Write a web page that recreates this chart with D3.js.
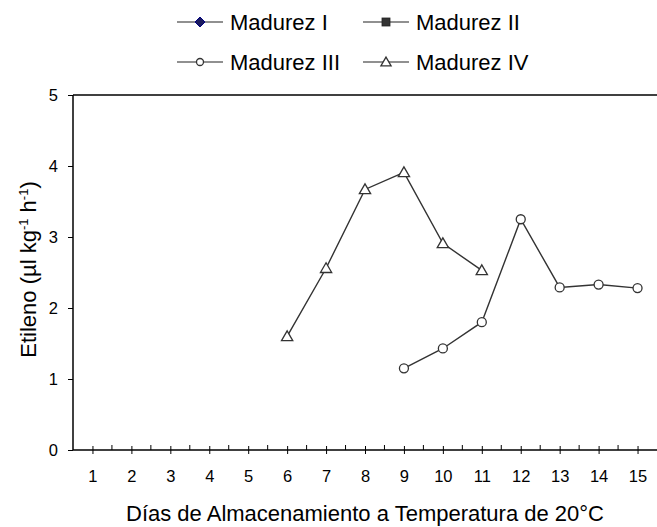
<!DOCTYPE html>
<html lang="es">
<head>
<meta charset="UTF-8">
<title>Etileno</title>
<script src="https://cdn.jsdelivr.net/npm/d3@7"></script>
<style>
  body { margin: 0; background: #fff; }
  svg { display: block; font-family: "Liberation Sans", Arial, sans-serif; }
</style>
</head>
<body>
<svg width="657" height="527"></svg>
<script>
// datos
const dias = [1, 2, 3, 4, 5, 6, 7, 8, 9, 10, 11, 12, 13, 14, 15];
const yTicks = [0, 1, 2, 3, 4, 5];
const diasIII = [9, 10, 11, 12, 13, 14, 15];
const madurezIII = [1.15, 1.43, 1.80, 3.25, 2.29, 2.33, 2.28];
const diasIV = [6, 7, 8, 9, 10, 11];
const madurezIV = [1.60, 2.56, 3.67, 3.91, 2.91, 2.53];
const series = ["Madurez I", "Madurez II", "Madurez III", "Madurez IV"];

const width = 657, height = 527;
const margin = { top: 95, right: 0, bottom: 77, left: 73 };

const svg = d3.select("svg");

const x = d3.scaleLinear()
    .domain([0.5, 15.5])
    .range([margin.left, width - margin.right]);

const y = d3.scaleLinear()
    .domain([0, 5])
    .range([height - margin.bottom, margin.top]);

// borde superior
svg.append("line")
    .attr("x1", margin.left).attr("x2", width)
    .attr("y1", y(5)).attr("y2", y(5))
    .attr("stroke", "#000").attr("stroke-width", 1.5);

// eje y
const gy = svg.append("g")
    .attr("transform", `translate(${margin.left},0)`)
    .call(d3.axisLeft(y).tickValues(yTicks).tickSize(5).tickPadding(10).tickFormat(d3.format("d")));
gy.select(".domain").attr("stroke-width", 1.5).attr("d", `M0,${y(0)}V${y(5)}`);
gy.selectAll("text").attr("font-size", 16.5).attr("font-family", "Liberation Sans, Arial, sans-serif");

// eje x: marcas en cada día y entre días
const halfTicks = d3.range(1.5, 15.5, 1);
const gx = svg.append("g")
    .attr("transform", `translate(0,${y(0)})`)
    .call(d3.axisBottom(x).tickValues(dias).tickSize(4).tickPadding(16).tickFormat(d3.format("d")));
gx.select(".domain").attr("stroke-width", 1.5).attr("d", `M${margin.left},0H${width}`);
gx.selectAll(".tick line").attr("y1", -4);
gx.selectAll("text").attr("font-size", 16.5).attr("font-family", "Liberation Sans, Arial, sans-serif");
gx.selectAll(".half")
    .data(halfTicks)
    .join("line")
    .attr("class", "half")
    .attr("x1", d => x(d)).attr("x2", d => x(d))
    .attr("y1", -5).attr("y2", 0)
    .attr("stroke", "#000");

// títulos de ejes
svg.append("text")
    .attr("x", (margin.left + width) / 2)
    .attr("y", 521)
    .attr("text-anchor", "middle")
    .attr("font-size", 22)
    .text("Días de Almacenamiento a Temperatura de 20°C");

const yl = svg.append("text")
    .attr("transform", `translate(36,${(y(0) + y(5)) / 2 - 3}) rotate(-90)`)
    .attr("text-anchor", "middle")
    .attr("font-size", 22);
yl.append("tspan").text("Etileno (µl kg");
yl.append("tspan").attr("font-size", 13).attr("dy", -8).text("-1");
yl.append("tspan").attr("dy", 8).text(" h");
yl.append("tspan").attr("font-size", 13).attr("dy", -8).text("-1");
yl.append("tspan").attr("dy", 8).text(")");

// líneas
const line = d3.line().x(d => x(d[0])).y(d => y(d[1]));
const datIII = diasIII.map((d, i) => [d, madurezIII[i]]);
const datIV = diasIV.map((d, i) => [d, madurezIV[i]]);

svg.append("path").datum(datIV).attr("d", line)
    .attr("fill", "none").attr("stroke", "#333").attr("stroke-width", 1.4);
svg.append("path").datum(datIII).attr("d", line)
    .attr("fill", "none").attr("stroke", "#333").attr("stroke-width", 1.4);

const tri = d3.symbol().type(d3.symbolTriangle).size(55);
svg.selectAll(".tri")
    .data(datIV)
    .join("path")
    .attr("class", "tri")
    .attr("transform", d => `translate(${x(d[0])},${y(d[1]) + 1})`)
    .attr("d", tri)
    .attr("fill", "#fff").attr("stroke", "#333").attr("stroke-width", 1.3);

svg.selectAll(".circ")
    .data(datIII)
    .join("circle")
    .attr("class", "circ")
    .attr("cx", d => x(d[0])).attr("cy", d => y(d[1]))
    .attr("r", 4.5)
    .attr("fill", "#fff").attr("stroke", "#333").attr("stroke-width", 1.3);

// leyenda
const legPos = [[177, 22], [363, 22], [177, 62], [363, 62]];
const leg = svg.selectAll(".leg")
    .data(series)
    .join("g")
    .attr("class", "leg")
    .attr("transform", (d, i) => `translate(${legPos[i][0]},${legPos[i][1]})`);

leg.append("line")
    .attr("x1", 0).attr("x2", 46)
    .attr("stroke", "#222").attr("stroke-width", 1.2);

leg.each(function (d, i) {
    const g = d3.select(this);
    if (i === 0) {
        g.append("path").attr("d", "M23,-5L28,0L23,5L18,0Z")
            .attr("fill", "#1a1a5e").attr("stroke", "#000080").attr("stroke-width", 1);
    } else if (i === 1) {
        g.append("rect").attr("x", 19).attr("y", -4).attr("width", 8).attr("height", 8)
            .attr("fill", "#333").attr("stroke", "#222").attr("stroke-width", 0.8);
    } else if (i === 2) {
        g.append("circle").attr("cx", 23).attr("r", 3.5)
            .attr("fill", "#fff").attr("stroke", "#333").attr("stroke-width", 1.3);
    } else {
        g.append("path").attr("transform", "translate(23,1)")
            .attr("d", d3.symbol().type(d3.symbolTriangle).size(45))
            .attr("fill", "#fff").attr("stroke", "#333").attr("stroke-width", 1.3);
    }
});

leg.append("text")
    .attr("x", 53).attr("y", 8)
    .attr("font-size", 22)
    .text(d => d);
</script>
</body>
</html>
